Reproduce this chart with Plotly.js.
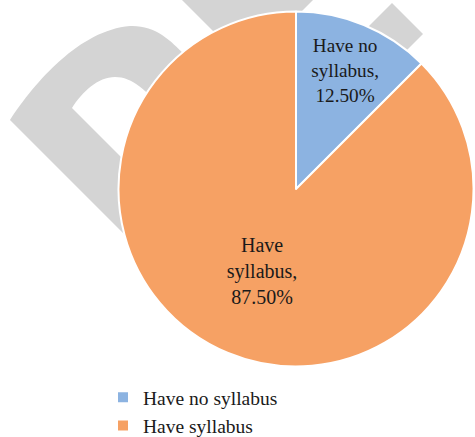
<!DOCTYPE html>
<html>
<head>
<meta charset="utf-8">
<script src="https://cdn.plot.ly/plotly-3.0.1.min.js"></script>
<style>html,body{margin:0;padding:0;background:#fff;}#chart{width:475px;height:437px;}</style>
</head>
<body>
<div id="chart"></div>
<script>
// ---- data ----
const categories = ["Have no syllabus", "Have syllabus"];
const shares = [12.5, 87.5];
const sliceLabels = ["Have no<br>syllabus,", "Have<br>syllabus,"];

// ---- styles ----
const sliceColors = ["#8cb3e1", "#f6a164"];
const W = 475, H = 437;
const serif = "Liberation Serif";

// decorative watermark (pixel paths converted to paper coords)
function toPaper(p) {
  return p.replace(/(-?\d+\.?\d*),(-?\d+\.?\d*)/g, function (m, x, y) {
    return (parseFloat(x) / W).toFixed(5) + "," + (1 - parseFloat(y) / H).toFixed(5);
  });
}
const wmPaths = [
  "M10,120 C35,82 80,30 130,26 C155,25 170,40 185,55 L230,110 L200,230 L145,255 Z " +
  "M72,108 C82,92 98,77 115,77 C132,77 148,90 165,115 L175,180 L135,171 Z",
  "M247.5,-65.5 L313,0 L247.5,65.5 L182,0 Z",
  "M392,3 L423,34 L392,65 L361,34 Z"
];
const shapes = wmPaths.map(p => ({
  type: "path", xref: "paper", yref: "paper", path: toPaper(p),
  fillcolor: "#d4d4d4", line: {width: 0}, fillrule: "evenodd", layer: "below"
}));

const trace = {
  type: "pie",
  labels: categories,
  values: shares,
  text: sliceLabels,
  texttemplate: "%{text}<br>%{percent:.2%}",
  textposition: "inside",
  insidetextorientation: "horizontal",
  sort: false,
  direction: "clockwise",
  rotation: 0,
  hoverinfo: "none",
  marker: {colors: sliceColors, line: {color: "#ffffff", width: 2}},
  insidetextfont: {family: serif, size: 20, color: "#1a1a1a"},
  domain: {x: [118.5 / W, 473.5 / W], y: [1 - 366.5 / H, 1 - 11.5 / H]}
};

const layout = {
  width: W, height: H,
  margin: {l: 0, r: 0, t: 0, b: 0, autoexpand: false},
  paper_bgcolor: "#ffffff",
  showlegend: true,
  legend: {
    x: 103 / W, xanchor: "left", y: 1 - 378 / H, yanchor: "top",
    font: {family: serif, size: 19.5, color: "#1a1a1a"},
    bgcolor: "rgba(0,0,0,0)"
  },
  shapes: shapes
};

Plotly.newPlot("chart", [trace], layout, {staticPlot: true, displayModeBar: false});
</script>
</body>
</html>
